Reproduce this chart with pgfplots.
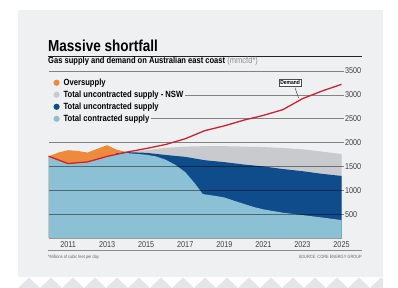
\documentclass[border=0pt]{standalone}
\usepackage{pgfplots}
\pgfplotsset{compat=1.18}
\usepackage{fontspec}
\setmainfont[FakeStretch=0.85]{Liberation Sans}
\definecolor{cardbg}{HTML}{EFF0F2}
\definecolor{zig}{HTML}{E4E5E8}
\definecolor{lightblue}{HTML}{8CC0D4}
\definecolor{darkblue}{HTML}{0E4C8C}
\definecolor{nswgray}{HTML}{C9CACE}
\definecolor{oversup}{HTML}{EE8A3C}
\definecolor{demandred}{HTML}{D3202E}
\begin{document}
\begin{tikzpicture}
% background card
\fill[white] (-48.5pt,-50pt) rectangle (349.5pt,238pt);
\fill[cardbg] (-30.5pt,-39pt) rectangle (334.5pt,228pt);
\begin{scope}
\clip (-30.5pt,-50pt) rectangle (334.5pt,-39pt);
\foreach \i in {0,...,17} {
  \fill[zig] ({-30.5pt+22pt*\i},-50pt) -- ({-19.5pt+22pt*\i},-39.5pt) -- ({-8.5pt+22pt*\i},-50pt) -- cycle;
}
\end{scope}
% title block
\node[anchor=base west, inner sep=0pt, font=\bfseries\fontsize{15.9}{16}\selectfont] at (-0.5pt,186pt) {Massive shortfall};
\draw[black!85, line width=1.2pt] (-0.5pt,181.5pt) -- (313.5pt,181.5pt);
\node[anchor=base west, inner sep=0pt, font=\fontsize{8.9}{9}\selectfont] at (-0.5pt,174.5pt) {\textbf{Gas supply and demand on Australian east coast} \textcolor{black!45}{(mmcfd*)}};
% footer
\draw[black!45, line width=0.6pt] (-0.5pt,-12pt) -- (313.5pt,-12pt);
\node[anchor=base west, inner sep=0pt, font=\fontsize{4.6}{5}\selectfont, text=black!60] at (-0.5pt,-20.5pt) {*Millions of cubic feet per day};
\node[anchor=base east, inner sep=0pt, font=\fontsize{4.6}{5}\selectfont, text=black!60] at (313.5pt,-20.5pt) {SOURCE: CORE ENERGY GROUP};
\begin{axis}[
  scale only axis, width=293pt, height=167pt,
  xmin=2010, xmax=2025, ymin=0, ymax=3500,
  axis x line*=bottom, axis y line*=right,
  x axis line style={black!40, line width=0.5pt},
  y axis line style={draw=none},
  xtick={2011,2013,2015,2017,2019,2021,2023,2025},
  ytick={500,1000,1500,2000,2500,3000,3500},
  major tick length=0pt,
  /pgf/number format/assume math mode=true,
  /pgf/number format/1000 sep=,
  xticklabel style={font=\fontsize{8.5}{9}\selectfont, text=black!75},
  yticklabel style={font=\fontsize{8.5}{9}\selectfont, text=black!75},
  clip=false,
  legend cell align=left,
  legend style={draw=none, fill=none, at={(-0.0041,0.962)}, anchor=north west,
    font=\bfseries\fontsize{9}{9}\selectfont, row sep=1.6pt, inner sep=0pt,
    nodes={fill=cardbg, inner sep=1.2pt}},
  legend image code/.code={\fill[cardbg] (-9.1pt,-5pt) rectangle (5.8pt,5pt); \fill[#1] (0cm,0cm) circle (3.1pt);},
]
\addplot[fill=oversup, draw=none] coordinates {
 (2010,1710) (2010.5,1790) (2011,1840) (2011.5,1825) (2012,1790) (2012.5,1870) (2013,1945) (2013.5,1850) (2014,1800) (2014,0) (2010,0)
};
\addlegendentry{Oversupply}
\addplot[fill=nswgray, draw=none] coordinates {
 (2013.45,1775) (2014,1800) (2015,1840) (2016,1890) (2017,1915) (2018,1925) (2019,1925) (2020,1915) (2021,1905) (2022,1885) (2023,1860) (2024,1810) (2025,1760) (2025,0) (2013.45,0)
};
\addlegendentry{Total uncontracted supply - NSW}
\addplot[fill=darkblue, draw=none] coordinates {
 (2013.45,1775) (2014,1800) (2015,1785) (2016,1740) (2017,1700) (2018,1630) (2019,1590) (2020,1540) (2021,1500) (2022,1445) (2023,1400) (2024,1345) (2025,1300) (2025,0) (2013.45,0)
};
\addlegendentry{Total uncontracted supply}
\addplot[fill=lightblue, draw=none] coordinates {
 (2010,1700) (2010.5,1620) (2011,1555) (2011.5,1570) (2012,1590) (2012.5,1640) (2013,1700) (2013.5,1760) (2014,1780) (2015,1745) (2015.5,1710) (2016,1640) (2016.5,1530) (2017,1380) (2017.5,1140) (2017.9,920) (2018.5,885) (2019,850) (2019.5,780) (2020,715) (2020.5,650) (2021,600) (2022,530) (2023,480) (2024,430) (2025,375) (2025,0) (2010,0)
};
\addlegendentry{Total contracted supply}
% grid lines
\addplot[black, draw opacity=0.45, line width=0.5pt, forget plot] coordinates {(2010,500) (2025.12,500)};
\addplot[black, draw opacity=0.45, line width=0.5pt, forget plot] coordinates {(2010,1000) (2025.12,1000)};
\addplot[black, draw opacity=0.45, line width=0.5pt, forget plot] coordinates {(2010,1500) (2025.12,1500)};
\addplot[black, draw opacity=0.45, line width=0.5pt, forget plot] coordinates {(2010,2000) (2025.12,2000)};
\addplot[black, draw opacity=0.45, line width=0.5pt, forget plot] coordinates {(2010,2500) (2025.12,2500)};
\addplot[black, draw opacity=0.45, line width=0.5pt, forget plot] coordinates {(2010,3000) (2025.12,3000)};
\addplot[black, draw opacity=0.45, line width=0.5pt, forget plot] coordinates {(2010,3500) (2025.12,3500)};
\addplot[demandred, line width=1.3pt, forget plot] coordinates {
 (2010,1715) (2011,1560) (2012,1595) (2013,1710) (2014,1800) (2015,1875) (2016,1960) (2017,2080) (2018,2250) (2019,2350) (2020,2470) (2021,2570) (2022,2690) (2023,2920) (2024,3080) (2025,3220)
};
\draw[black!70, line width=0.5pt] (axis cs:2022.62,3150) -- (axis cs:2022.8,2935);
\node[draw=black!70, fill=white, line width=0.5pt, inner sep=1.5pt, font=\bfseries\fontsize{5.8}{6}\selectfont] at (axis cs:2022.37,3260) {Demand};
\end{axis}
\pgfresetboundingbox
\path[use as bounding box] (-48.5pt,-50pt) rectangle (349.5pt,238pt);
\end{tikzpicture}
\end{document}
